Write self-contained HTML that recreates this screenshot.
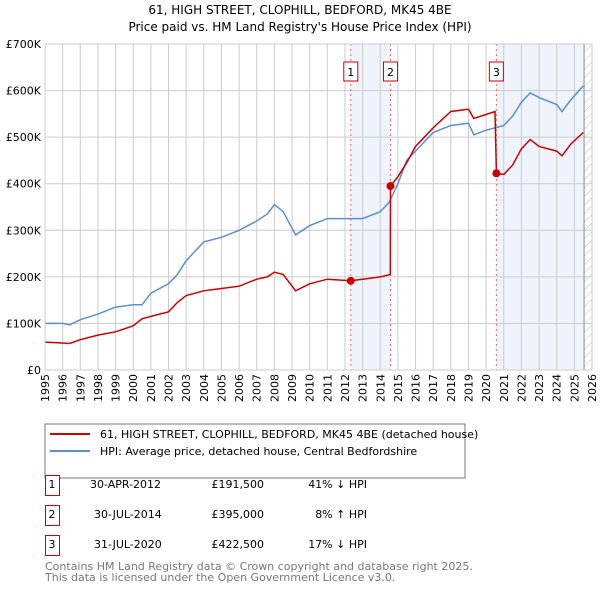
<!DOCTYPE html>
<html><head><meta charset="utf-8"><style>
body{margin:0;width:600px;height:590px;background:#fff;font-family:"DejaVu Sans","Liberation Sans",sans-serif;overflow:hidden}
svg text{font-family:"DejaVu Sans","Liberation Sans",sans-serif}
</style></head><body>
<svg id="c" width="600" height="590">
<defs><pattern id="h" width="6" height="6" patternUnits="userSpaceOnUse" patternTransform="rotate(45)"><line x1="0" y1="0" x2="0" y2="6" stroke="#bbb" stroke-width="1"/></pattern></defs>
<text x="300" y="14" text-anchor="middle" font-size="12" fill="#000">61, HIGH STREET, CLOPHILL, BEDFORD, MK45 4BE</text>
<text x="300" y="31" text-anchor="middle" font-size="12" fill="#000">Price paid vs. HM Land Registry's House Price Index (HPI)</text>
<g id="g"></g>
<rect x="45" y="424" width="420" height="54" fill="#fff" stroke="#777"/>
<line x1="50" y1="434" x2="90" y2="434" stroke="#cc0000" stroke-width="2"/>
<text x="100" y="438" font-size="11">61, HIGH STREET, CLOPHILL, BEDFORD, MK45 4BE (detached house)</text>
<line x1="50" y1="451" x2="90" y2="451" stroke="#5b8fd0" stroke-width="2"/>
<text x="100" y="455" font-size="11">HPI: Average price, detached house, Central Bedfordshire</text>
<g font-size="11">
<rect x="45.5" y="475.5" width="14" height="20" fill="#fff" stroke="#cc0000"/><text x="52" y="488" text-anchor="middle">1</text>
<text x="90" y="488">30-APR-2012</text><text x="264" y="488" text-anchor="end">£191,500</text><text x="367" y="488" text-anchor="end">41% ↓ HPI</text>
<rect x="45.5" y="505.5" width="14" height="20" fill="#fff" stroke="#cc0000"/><text x="52" y="518" text-anchor="middle">2</text>
<text x="94" y="518">30-JUL-2014</text><text x="264" y="518" text-anchor="end">£395,000</text><text x="367" y="518" text-anchor="end">8% ↑ HPI</text>
<rect x="45.5" y="535.5" width="14" height="20" fill="#fff" stroke="#cc0000"/><text x="52" y="548" text-anchor="middle">3</text>
<text x="94" y="548">31-JUL-2020</text><text x="264" y="548" text-anchor="end">£422,500</text><text x="367" y="548" text-anchor="end">17% ↓ HPI</text>
</g>
<text x="45" y="570" font-size="11" fill="#777">Contains HM Land Registry data © Crown copyright and database right 2025.</text>
<text x="45" y="581" font-size="11" fill="#777">This data is licensed under the Open Government Licence v3.0.</text>
</svg>
<script>
const yearTicks=[1995,1996,1997,1998,1999,2000,2001,2002,2003,2004,2005,2006,2007,2008,2009,2010,2011,2012,2013,2014,2015,2016,2017,2018,2019,2020,2021,2022,2023,2024,2025,2026];
const valueTicks=[0,100,200,300,400,500,600,700];
const valueLabels=["£0","£100K","£200K","£300K","£400K","£500K","£600K","£700K"];
const hpiYears=[1995,1996,1996.4,1997,1998,1999,2000,2000.5,2001,2002,2002.5,2003,2004,2005,2006,2007,2007.6,2008,2008.5,2009.2,2010,2011,2012,2013,2014,2014.5,2015,2015.5,2016,2017,2018,2019,2019.3,2020,2020.5,2021,2021.5,2022,2022.5,2023,2024,2024.3,2024.8,2025.5];
const hpiValues=[100,100,97,108,120,135,140,140,165,185,205,235,275,285,300,320,335,355,340,290,310,325,325,325,340,360,400,450,470,510,525,530,505,515,520,525,545,575,595,585,570,555,580,610];
const ppYears=[1995,1996,1996.4,1997,1998,1999,2000,2000.5,2001,2002,2002.5,2003,2004,2005,2006,2007,2007.6,2008,2008.5,2009.2,2010,2011,2012.33,2013,2014,2014.57,2014.58,2015,2015.5,2016,2017,2018,2019,2019.3,2020.5,2020.58,2021,2021.5,2022,2022.5,2023,2024,2024.3,2024.8,2025.5];
const ppValues=[60,58,57,65,75,82,95,110,115,125,145,160,170,175,180,195,200,210,205,170,185,195,191.5,195,200,205,395,415,445,480,520,555,560,540,555,422.5,420,440,475,495,480,470,460,485,510];
const saleYears=[2012.33,2014.58,2020.58];
const saleValues=[191.5,395,422.5];
const saleLabels=["1","2","3"];
const X=y=>45+(y-1995)*(547/31);
const Y=v=>370-v*(326/700);
const NS="http://www.w3.org/2000/svg",g=document.getElementById('g');
function el(t,a){const e=document.createElementNS(NS,t);for(const k in a)e.setAttribute(k,a[k]);g.appendChild(e);return e;}
let r=el('rect',{x:X(saleYears[0]),y:44,width:X(saleYears[1])-X(saleYears[0]),height:326,fill:'#eef3fc'});


r=el('rect',{x:X(saleYears[2]),y:44,width:X(2025.55)-X(saleYears[2]),height:326,fill:'#eef3fc'});


r=el('rect',{x:X(2025.55),y:44,width:592-X(2025.55),height:326,fill:'url(#h)'});


yearTicks.forEach(yr=>{const l=el('line',{x1:X(yr),x2:X(yr),y1:44,y2:370,stroke:'#ccc'});


const tx=X(yr)+4,ty=374;
const t=el('text',{x:tx,y:ty,'text-anchor':'end','font-size':11,transform:`rotate(-90 ${tx} ${ty})`});t.textContent=yr;

});
valueTicks.forEach((v,i)=>{const l=el('line',{x1:45,x2:592,y1:Y(v),y2:Y(v),stroke:'#ccc'});


const t=el('text',{x:41,y:Y(v)+4,'text-anchor':'end','font-size':11});t.textContent=valueLabels[i];

});
r=el('line',{x1:X(2025.55),x2:X(2025.55),y1:44,y2:370,stroke:'#888'});


saleYears.forEach((s,i)=>{const l=el('line',{x1:X(s),x2:X(s),y1:44,y2:370,stroke:'#e66','stroke-dasharray':'2,3'});


const b=el('rect',{x:X(s)-7,y:62,width:14,height:19,fill:'#fff',stroke:'#cc0000'});


const t=el('text',{x:X(s),y:76,'text-anchor':'middle','font-size':11});t.textContent=saleLabels[i];

});
const pts=(xs,vs)=>xs.map((x,i)=>X(x).toFixed(1)+','+Y(vs[i]).toFixed(1)).join(' ');
let p=el('polyline',{points:pts(hpiYears,hpiValues),fill:'none',stroke:'#5b8fd0','stroke-width':1.5});


p=el('polyline',{points:pts(ppYears,ppValues),fill:'none',stroke:'#cc0000','stroke-width':1.5});


saleYears.forEach((s,i)=>{const c=el('circle',{cx:X(s),cy:Y(saleValues[i]),r:4,fill:'#cc0000'});

});
r=el('rect',{x:45,y:44,width:547,height:326,fill:'none',stroke:'#ccc'});


</script>
</body></html>
